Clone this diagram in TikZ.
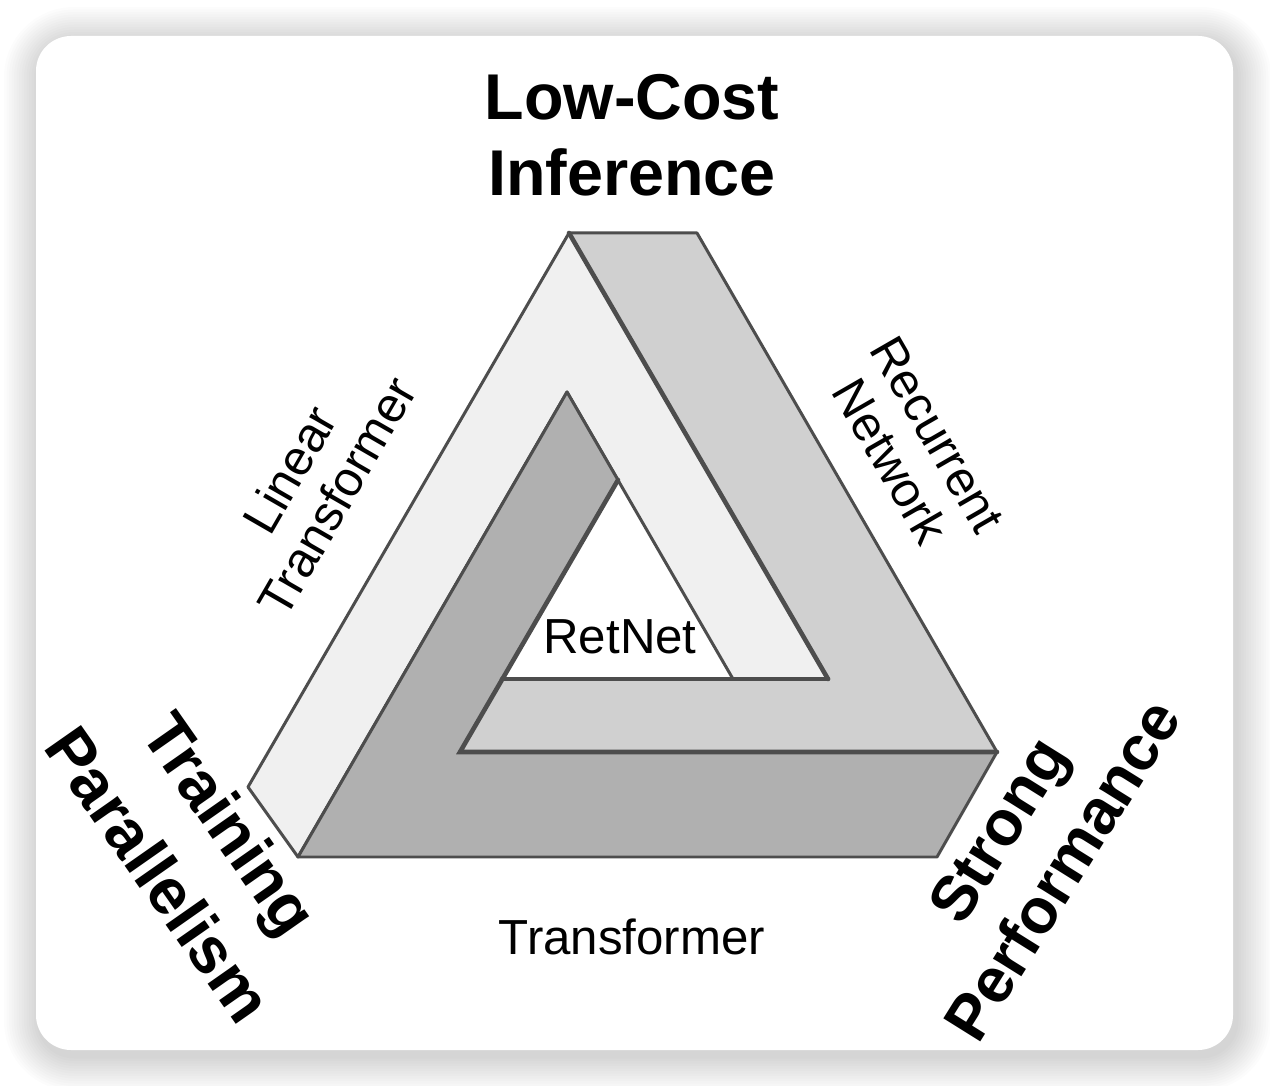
\documentclass[tikz,border=0pt]{standalone}
\usepackage{fontspec}
\setmainfont{Liberation Sans}
\definecolor{edgegray}{HTML}{4D4D4D}
\definecolor{lightbar}{HTML}{F0F0F0}
\definecolor{midbar}{HTML}{D0D0D0}
\definecolor{darkbar}{HTML}{B0B0B0}
\begin{document}
\begin{tikzpicture}
      [x=0.01cm, y=-0.01cm,
       outline/.style={draw=edgegray, line width=0.85pt, line join=round},
       seam/.style={draw=edgegray, line width=1.3pt, line cap=round},
       corner/.style={font=\bfseries\fontsize{18.4}{21.5}\selectfont, align=center, inner sep=0pt},
       side/.style={font=\fontsize{14}{15.4}\selectfont, align=center, inner sep=0pt}]
      \useasboundingbox (0, 0) rectangle (1270, 1086);
      % card with soft shadow
      \foreach \i in {1,...,14}
        \fill[black, opacity=0.010, rounded corners={0.35cm+\i*0.025cm}]
          (36-2.5*\i+3, 36-2.5*\i+6) rectangle (1233+2.5*\i+3, 1050+2.5*\i+6);
      \fill[white, rounded corners=0.35cm] (36, 36) rectangle (1233, 1050);
      % corners of the bars
      \coordinate(A) at (569, 233);
      \coordinate(B) at (697, 233);
      \coordinate(C) at (997, 752);
      \coordinate(D) at (937, 857);
      \coordinate(E) at (298, 857);
      \coordinate(F) at (248, 787);
      \coordinate(G) at (828, 679);
      \coordinate(H) at (733, 679);
      \coordinate(I) at (567, 392);
      \coordinate(J) at (618, 480);
      \coordinate(K) at (502, 679);
      \coordinate(L) at (460, 752);
      \filldraw[outline, fill=lightbar] (F) -- (A) -- (G) -- (H) -- (I) -- (E) -- cycle;
      \filldraw[outline, fill=midbar] (A) -- (B) -- (C) -- (L) -- (K) -- (G) -- cycle;
      \filldraw[outline, fill=darkbar] (E) -- (I) -- (J) -- (L) -- (C) -- (D) -- cycle;
      \draw[seam] (A) -- (G);
      \draw[seam] (J) -- (L) -- (C);
      \draw[seam] (K) -- (G);
      % labels
      \node[corner](lci) at (632, 135) {Low-Cost\\Inference};
      \node[corner, rotate=-55, font=\bfseries\fontsize{18.4}{25}\selectfont](tp) at (195, 849) {Training\\Parallelism};
      \node[corner, rotate=58, font=\bfseries\fontsize{18}{21.5}\selectfont](sp) at (1030, 850) {Strong\\Performance};
      \node[side](tf) at (632, 937) {Transformer};
      \node[side](rn) at (620, 637) {RetNet};
      \node[side, rotate=60](lt) at (313, 483) {Linear\\Transformer};
      \node[side, rotate=-60](rc) at (914, 448) {Recurrent\\Network};
  \end{tikzpicture}
\end{document}
